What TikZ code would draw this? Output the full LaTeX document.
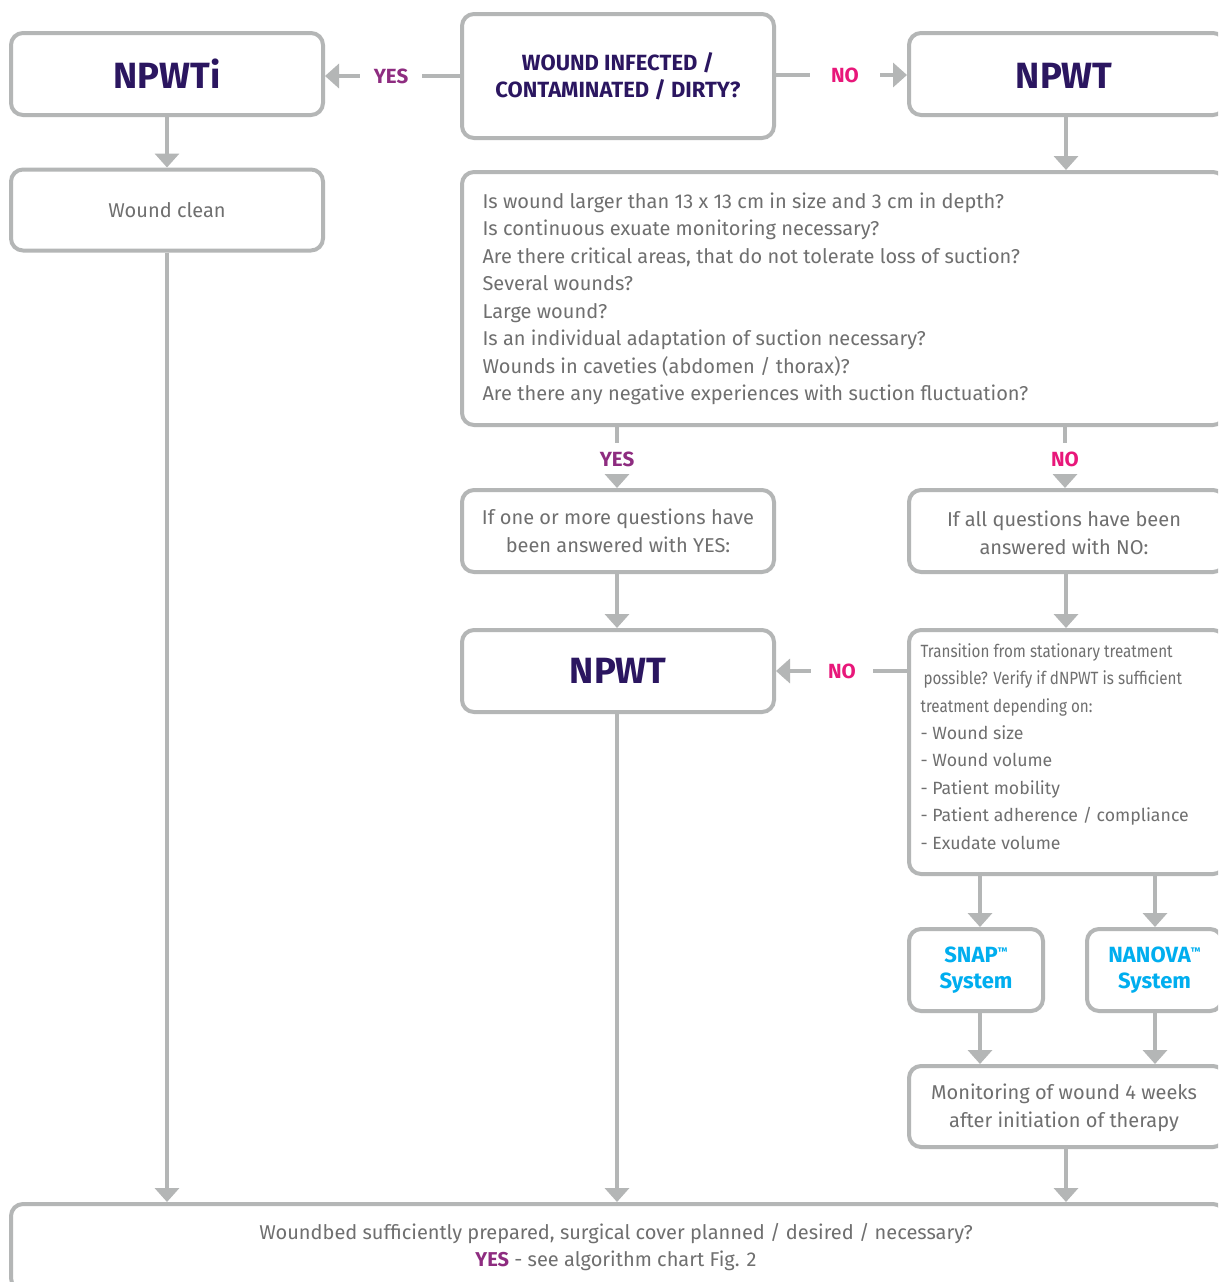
\documentclass[tikz,border=0pt]{standalone}
\usepackage{fontspec}
\setmainfont{Fira Sans}
\newfontfamily\narrowfont[FakeStretch=0.86]{Fira Sans}
\usetikzlibrary{arrows.meta}
\definecolor{lgray}{HTML}{B4B6B6}
\definecolor{tgray}{HTML}{6F6F6F}
\definecolor{dpurple}{HTML}{2B1660}
\definecolor{ypurple}{HTML}{8E2C80}
\definecolor{npink}{HTML}{E8177A}
\definecolor{sblue}{HTML}{00AEEF}
\newcommand{\tmark}{\raisebox{0.55ex}{\fontsize{11}{11}\selectfont ™}}
\tikzset{
  box/.style={draw=lgray, line width=4pt, rounded corners=12pt, fill=white, inner sep=0pt, text=tgray},
  conn/.style={draw=lgray, line width=4pt},
  arr/.style={conn, -{Triangle[width=24pt,length=14pt]}},
  big/.style={font=\fontsize{36.5}{40}\selectfont\bfseries, text=dpurple},
  body/.style={font=\fontsize{20}{27.5}\selectfont, text=tgray},
  small/.style={font=\fontsize{17.7}{27.4}\selectfont, text=tgray},
  ylab/.style={font=\fontsize{20.5}{24}\selectfont\bfseries, text=ypurple, inner sep=0pt},
  nlab/.style={font=\fontsize{20.5}{24}\selectfont\bfseries, text=npink, inner sep=0pt},
  sys/.style={font=\fontsize{22}{26}\selectfont\bfseries, text=sblue, align=center}
}
\begin{document}
\begin{tikzpicture}[x=1pt,y=-1pt]
\useasboundingbox (0,0) rectangle (1218,1282);
\fill[white] (0,0) rectangle (1218,1282);
\clip (0,0) rectangle (1218,1282);

% boxes
\node[box, big, minimum width=312pt, minimum height=82pt] (npwti) at (167,74) {NPWTi};
\node[box, minimum width=312pt, minimum height=124pt, align=center,
      font=\fontsize{22}{27}\selectfont\bfseries, text=dpurple] (q1) at (618,76) {WOUND INFECTED /\\CONTAMINATED / DIRTY?};
\node[box, minimum width=316pt, minimum height=82pt] (npwt1) at (1067,74) {};
\node[big] at (1064,76) {NPWT};
\node[box, body, minimum width=312pt, minimum height=81pt] (clean) at (167,210) {Wound clean};
\node[box, minimum width=763pt, minimum height=253pt] (qs) at (843.5,298.5) {};
\node[body, anchor=north west, align=left] (qstext) at (479,189)
  {Is wound larger than 13 x 13 cm in size and 3 cm in depth?\\
   Is continuous exuate monitoring necessary?\\
   Are there critical areas, that do not tolerate loss of suction?\\
   Several wounds?\\
   Large wound?\\
   Is an individual adaptation of suction necessary?\\
   Wounds in caveties (abdomen / thorax)?\\
   Are there any negative experiences with suction fluctuation?};
\node[box, body, minimum width=312pt, minimum height=82pt, align=center] (yesbox) at (618,531)
  {If one or more questions have\\been answered with YES:};
\node[box, minimum width=316pt, minimum height=82pt] (nobox) at (1067,531) {};
\node[body, align=center] at (1064,533) {If all questions have been\\answered with NO:};
\node[box, big, minimum width=312pt, minimum height=82pt] (npwt2) at (618,671) {NPWT};
\node[box, minimum width=316pt, minimum height=244pt] (trans) at (1067,752) {};
\node[small, anchor=north west, align=left] at (917,640)
  {{\narrowfont Transition from stationary treatment}\\
   {\narrowfont\hspace*{3pt}possible? Verify if dNPWT is sufficient}\\
   {\narrowfont treatment depending on:}\\
   - Wound size\\
   - Wound volume\\
   - Patient mobility\\
   - Patient adherence / compliance\\
   - Exudate volume};
\node[box, sys, minimum width=134pt, minimum height=82pt] (snap) at (976,970) {SNAP\tmark\\System};
\node[box, sys, minimum width=135pt, minimum height=82pt] (nanova) at (1154.5,970) {NANOVA\tmark\\System};
\node[box, minimum width=316pt, minimum height=81pt] (moni) at (1067,1106.5) {};
\node[body, align=center] at (1064,1108) {Monitoring of wound 4 weeks\\after initiation of therapy};
\node[box, minimum width=1214pt, minimum height=86pt] (final) at (618,1247) {};
\node[body, align=center] at (616,1247)
  {Woundbed sufficiently prepared, surgical cover planned / desired / necessary?\\
   {\color{ypurple}\bfseries YES} - see algorithm chart Fig. 2};

% labels
\node[ylab, minimum width=62pt, minimum height=20pt] (l1) at (391,76) {YES};
\node[nlab, minimum width=70pt, minimum height=20pt] (l2) at (845,75) {NO};
\node[ylab, minimum width=40pt, minimum height=32pt] (l3) at (617,459) {YES};
\node[nlab, minimum width=40pt, minimum height=32pt] (l4) at (1065,459) {NO};
\node[nlab, minimum width=62pt, minimum height=20pt] (l5) at (842,671) {NO};

% connectors
\draw[conn] (q1.west |- l1) -- (l1.east);
\draw[arr] (l1.west) -- (npwti.east |- l1);
\draw[conn] (q1.east |- l2) -- (l2.west);
\draw[arr] (l2.east) -- (npwt1.west |- l2);
\draw[arr] (npwti.south) -- (clean.north);
\draw[arr] (npwt1.south -| 1066,0) -- (qs.north -| 1066,0);
\draw[conn] (qs.south -| l3) -- (l3.north);
\draw[arr] (l3.south) -- (yesbox.north -| l3);
\draw[conn] (qs.south -| l4) -- (l4.north);
\draw[arr] (l4.south) -- (nobox.north -| l4);
\draw[arr] (yesbox.south -| 617,0) -- (npwt2.north -| 617,0);
\draw[arr] (nobox.south -| 1066,0) -- (trans.north -| 1066,0);
\draw[conn] (trans.west |- l5) -- (l5.east);
\draw[arr] (l5.west) -- (npwt2.east |- l5);
\draw[arr] (trans.south -| 980,0) -- (snap.north -| 980,0);
\draw[arr] (trans.south -| 1155,0) -- (nanova.north -| 1155,0);
\draw[arr] (snap.south -| 980,0) -- (moni.north -| 980,0);
\draw[arr] (nanova.south -| 1155,0) -- (moni.north -| 1155,0);
\draw[arr] (clean.south -| 167,0) -- (final.north -| 167,0);
\draw[arr] (npwt2.south -| 617,0) -- (final.north -| 617,0);
\draw[arr] (moni.south -| 1066,0) -- (final.north -| 1066,0);
\end{tikzpicture}
\end{document}
